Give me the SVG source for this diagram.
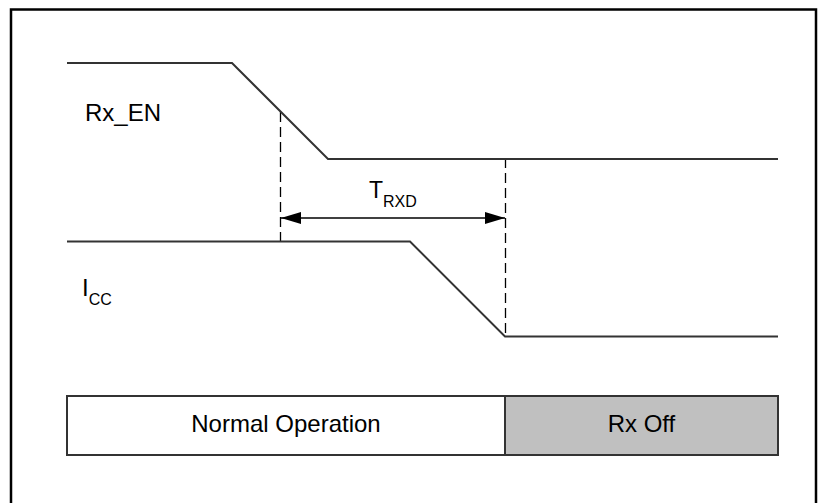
<svg xmlns="http://www.w3.org/2000/svg" width="823" height="503" viewBox="0 0 823 503">
<style>
.frame{fill:none;stroke:#000;stroke-width:2.5}
.sig{fill:none;stroke:#333;stroke-width:2}
.dash{fill:none;stroke:#000;stroke-width:1.3;stroke-dasharray:10,5}
.dim{fill:none;stroke:#000;stroke-width:1.5}
.t{font-family:"Liberation Sans",Arial,sans-serif;fill:#000}
.box{stroke:#333;stroke-width:2}
</style>
<defs>
<marker id="ah" viewBox="0 0 20 12" refX="20" refY="6" markerWidth="20" markerHeight="12" markerUnits="userSpaceOnUse" orient="auto-start-reverse">
<path d="M0,0 L20,6 L0,12 z" fill="#000"/>
</marker>
</defs>
<rect width="823" height="503" fill="#fff"/>
<path class="frame" d="M11,503 V9.5 H816 V503"/>
<g id="connectors">
<path class="dash" d="M280.5,112 V241"/>
<path class="dash" d="M505.5,158 V336"/>
<path class="dim" d="M281,218 H505" marker-start="url(#ah)" marker-end="url(#ah)"/>
</g>
<g id="rx_en">
<path class="sig" d="M67,63 H232 L328,159 H778"/>
<text class="t" x="85" y="121" font-size="24">Rx_EN</text>
</g>
<g id="icc">
<path class="sig" d="M67,241.5 H410 L505,336.5 H778"/>
<text class="t" x="82" y="296" font-size="24">I<tspan font-size="16" dy="9">CC</tspan></text>
</g>
<g id="trxd">
<text class="t" x="369" y="198" font-size="23">T<tspan font-size="16" dy="9">RXD</tspan></text>
</g>
<g id="normal">
<rect class="box" x="67" y="396" width="438" height="59" fill="#fff"/>
<text class="t" x="286" y="432" font-size="24" text-anchor="middle">Normal Operation</text>
</g>
<g id="rxoff">
<rect class="box" x="505" y="396" width="273" height="59" fill="#c0c0c0"/>
<text class="t" x="641.5" y="432" font-size="24" text-anchor="middle">Rx Off</text>
</g>
</svg>
